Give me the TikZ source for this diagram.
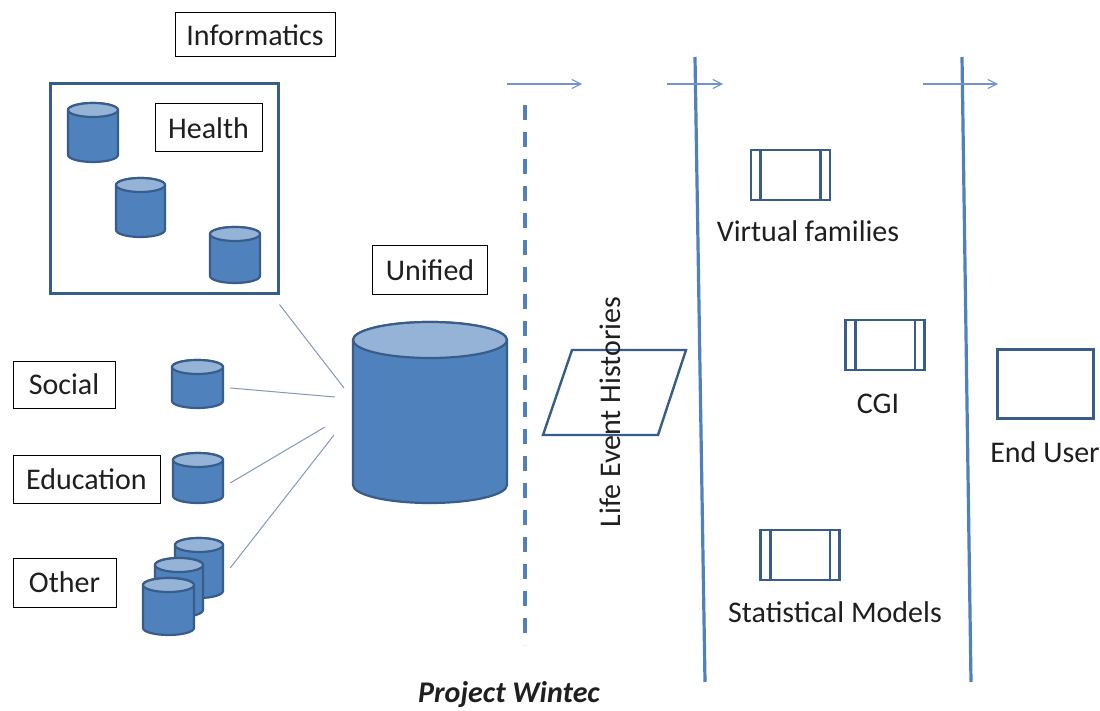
\documentclass[tikz,border=0pt]{standalone}
\usepackage{fontspec}
\setmainfont{Carlito}
\usetikzlibrary{arrows.meta}
\definecolor{cylfill}{HTML}{4F81BD}
\definecolor{cylline}{HTML}{385D8A}
\definecolor{cyltop}{HTML}{95B3D7}
\definecolor{vline}{HTML}{4F81BD}
\definecolor{thinline}{HTML}{8498BA}
\definecolor{arrcol}{HTML}{7394C9}
\newcommand{\dbcyl}[6]{% #1 name, #2 cx, #3 top, #4 w, #5 h, #6 ry
  \pgfmathsetmacro\cylL{#2-#4/2}%
  \pgfmathsetmacro\cylR{#2+#4/2}%
  \pgfmathsetmacro\cylT{#3+#6}%
  \pgfmathsetmacro\cylB{#3+#5-#6}%
  \pgfmathsetmacro\cylRx{#4/2}%
  \pgfmathsetmacro\cylM{#3+#5/2}%
  \node[minimum width=#4pt, minimum height=#5pt, inner sep=0pt, draw=none] (#1) at (#2,\cylM) {};
  \draw[cylstyle] (\cylL,\cylT) -- (\cylL,\cylB)
    arc[start angle=180,end angle=360,x radius=\cylRx pt,y radius=#6pt]
    -- (\cylR,\cylT)
    arc[start angle=0,end angle=180,x radius=\cylRx pt,y radius=#6pt] -- cycle;
  \draw[cylstyle,fill=cyltop] (#2,\cylT) ellipse[x radius=\cylRx pt,y radius=#6pt];
}
\newcommand{\procbox}[3]{% #1 name, #2 cx, #3 cy
  \node[procstyle] (#1) at (#2,#3) {};
  \draw[cylline,line width=2.6pt] ([xshift=11pt]#1.north west) -- ([xshift=11pt]#1.south west);
  \draw[cylline,line width=2.6pt] ([xshift=-11pt]#1.north east) -- ([xshift=-11pt]#1.south east);
}
\begin{document}
\begin{tikzpicture}[x=1pt,y=-1pt,
  every node/.style={font=\fontsize{30}{36}\selectfont, text=black!88},
  lbl/.style={draw=black, line width=1pt, inner sep=0pt},
  cylstyle/.style={draw=cylline, line width=2.2pt, fill=cylfill},
  procstyle/.style={draw=cylline, line width=2.6pt, minimum width=79pt, minimum height=50pt, inner sep=0pt},
  conn/.style={draw=thinline, line width=1pt},
  arr/.style={draw=arrcol, line width=1.1pt, -{Straight Barb[length=9pt,width=9pt]}},
  vl/.style={draw=vline, line width=3.2pt},
  dl/.style={draw=vline, line width=4pt, dash pattern=on 15pt off 12pt}]
\useasboundingbox (0,0) rectangle (1100,711);
\fill[white] (0,0) rectangle (1100,711);

% left labels
\node[lbl, minimum width=160pt, minimum height=44pt] (inf) at (255,35) {Informatics};
\node[draw=cylline, line width=3pt, minimum width=228pt, minimum height=210pt, inner sep=0pt] (healthbox) at (164,189) {};
\node[lbl, minimum width=107pt, minimum height=48pt] (health) at (208.5,128) {Health};
\dbcyl{h1}{93}{103}{50}{59}{7}
\dbcyl{h2}{140.5}{178}{49}{59}{7}
\dbcyl{h3}{235}{227}{50}{56}{7}

\node[lbl, minimum width=102pt, minimum height=47pt] (social) at (64,384.5) {Social};
\node[lbl, minimum width=147pt, minimum height=48pt] (edu) at (86.5,479) {Education};
\node[lbl, minimum width=103pt, minimum height=49pt] (other) at (64.5,582.5) {Other};

\dbcyl{socc}{197.5}{360}{51}{48}{7}
\dbcyl{educ}{198}{453}{50}{50}{7}
\dbcyl{oth1}{199}{538}{48}{60}{7}
\dbcyl{oth2}{179}{558}{48}{59}{7}
\dbcyl{oth3}{168.5}{578}{51}{57}{7}

% unified
\node[lbl, minimum width=115pt, minimum height=49pt] (unif) at (430,270.5) {Unified};
\dbcyl{big}{430}{322}{154}{181}{18}

\coordinate (u1) at (344,388);
\coordinate (u2) at (335,397);
\coordinate (u3) at (325,427);
\coordinate (u4) at (334,435);
\draw[conn] ([shift={(0,9)}]healthbox.south east) -- (u1);
\draw[conn] ([shift={(7,4)}]socc.east) -- (u2);
\draw[conn] ([shift={(7,5)}]educ.east) -- (u3);
\draw[conn] ([shift={(7,0)}]oth1.east) -- (u4);

% separators
\coordinate (dt) at (525,105);
\coordinate (db) at (525,645);
\draw[dl] (dt) -- (db);
\coordinate (v1t) at (695,57);
\coordinate (v1b) at (705,682);
\draw[vl] (v1t) -- (v1b);
\coordinate (v2t) at (962,57);
\coordinate (v2b) at (971,682);
\draw[vl] (v2t) -- (v2b);

% arrows
\coordinate (a1s) at (507,84); \coordinate (a1e) at (582,84);
\coordinate (a2s) at (667,84); \coordinate (a2e) at (723,84);
\coordinate (a3s) at (923,84); \coordinate (a3e) at (998,84);
\draw[arr] (a1s) -- (a1e);
\draw[arr] (a2s) -- (a2e);
\draw[arr] (a3s) -- (a3e);

% life event histories
\coordinate (p1) at (572,350);
\coordinate (p2) at (686,350);
\coordinate (p3) at (658,435);
\coordinate (p4) at (543,435);
\draw[draw=cylline, line width=2.4pt, line join=miter] (p1) -- (p2) -- (p3) -- (p4) -- cycle;
\node[rotate=90, inner sep=0pt] (leh) at (610,412) {Life Event Histories};

% process boxes
\procbox{vf}{790.5}{175}
\node[anchor=base] (vfl) at (808,242) {Virtual families};
\procbox{cgi}{885}{345}
\node[anchor=base] (cgil) at (878,413) {CGI};
\procbox{sm}{800}{555}
\node[anchor=base] (sml) at (835,622) {Statistical Models};

% end user
\node[draw=cylline, line width=3pt, minimum width=96pt, minimum height=69pt, inner sep=0pt] (eu) at (1045,383.5) {};
\node[anchor=base] (eul) at (1045,462) {End User};

\node[anchor=base, font=\fontsize{30}{36}\selectfont\bfseries\itshape] (pw) at (509,702) {Project Wintec};
\end{tikzpicture}
\end{document}
